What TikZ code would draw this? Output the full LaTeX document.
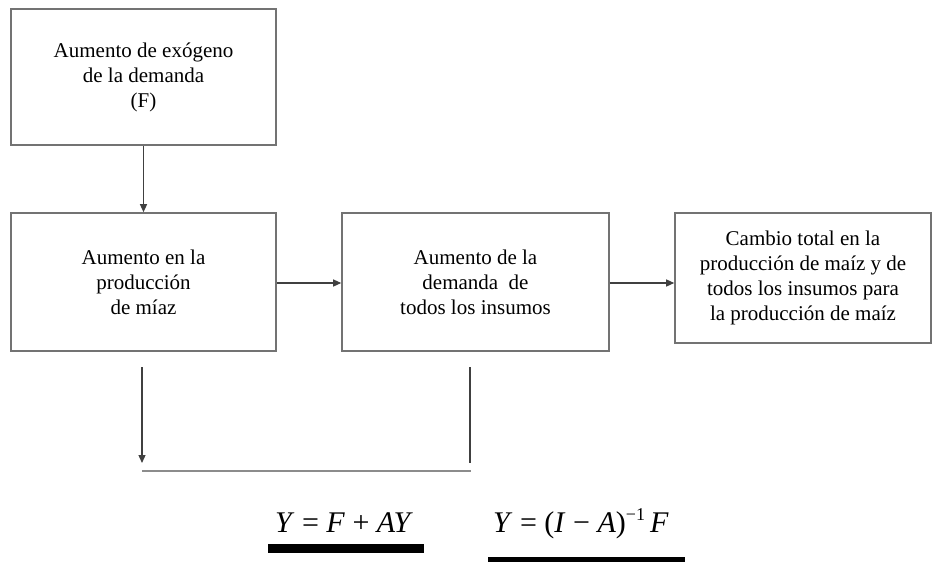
\documentclass[tikz,border=0pt]{standalone}
\usepackage{fontspec}
\setmainfont{Liberation Serif}
\usetikzlibrary{arrows.meta}
\begin{document}
\begin{tikzpicture}[x=1pt,y=-1pt,
  boxnode/.style={draw=black!55,line width=1.6pt,inner sep=0pt,align=center,
    font=\fontsize{21}{25}\selectfont},
  conn/.style={draw=black!75,line width=1.3pt},
  arr/.style={conn,-{Triangle[length=8pt,width=7pt]}},
  formula/.style={inner sep=0pt,anchor=base west,font=\fontsize{30}{36}\selectfont}]
\useasboundingbox (0,0) rectangle (932,562);
\node[boxnode,minimum width=265pt,minimum height=136pt] (b1) at (143.5,77)
  {Aumento de exógeno\\de la demanda\\(F)};
\node[boxnode,minimum width=265pt,minimum height=138pt] (b2) at (143.5,282)
  {Aumento en la\\producción\\de míaz};
\node[boxnode,minimum width=267pt,minimum height=138pt] (b3) at (475.5,282)
  {Aumento de la\\demanda\ \ de\\todos los insumos};
\node[boxnode,minimum width=256pt,minimum height=130pt] (b4) at (803,278)
  {Cambio total en la\\producción de maíz y de\\todos los insumos para\\la producción de maíz};
\draw[arr] (b1.south) -- (b2.north);
\draw[arr] (b2.east |- 0,283) -- (b3.west |- 0,283);
\draw[arr] (b3.east |- 0,283) -- (b4.west |- 0,283);
\coordinate (l1) at (142,367);
\coordinate (l2) at (142,463);
\coordinate (r1) at (470,367);
\coordinate (r2) at (470,463);
\coordinate (h1) at (142,471);
\coordinate (h2) at (471,471);
\draw[arr] (l1) -- (l2);
\draw[conn] (r1) -- (r2);
\draw[conn,draw=black!45] (h1) -- (h2);
\node[formula] (f1) at (275,532) {\textit{Y} = \textit{F} + \textit{AY}};
\node[formula] (f2) at (493,532) {\textit{Y} = (\textit{I} − \textit{A})\raisebox{12pt}{\fontsize{18}{18}\selectfont −1}\,\textit{F}};
\fill[black] (268,544) rectangle (424,553);
\fill[black] (488,557) rectangle (685,566);
\end{tikzpicture}
\end{document}
